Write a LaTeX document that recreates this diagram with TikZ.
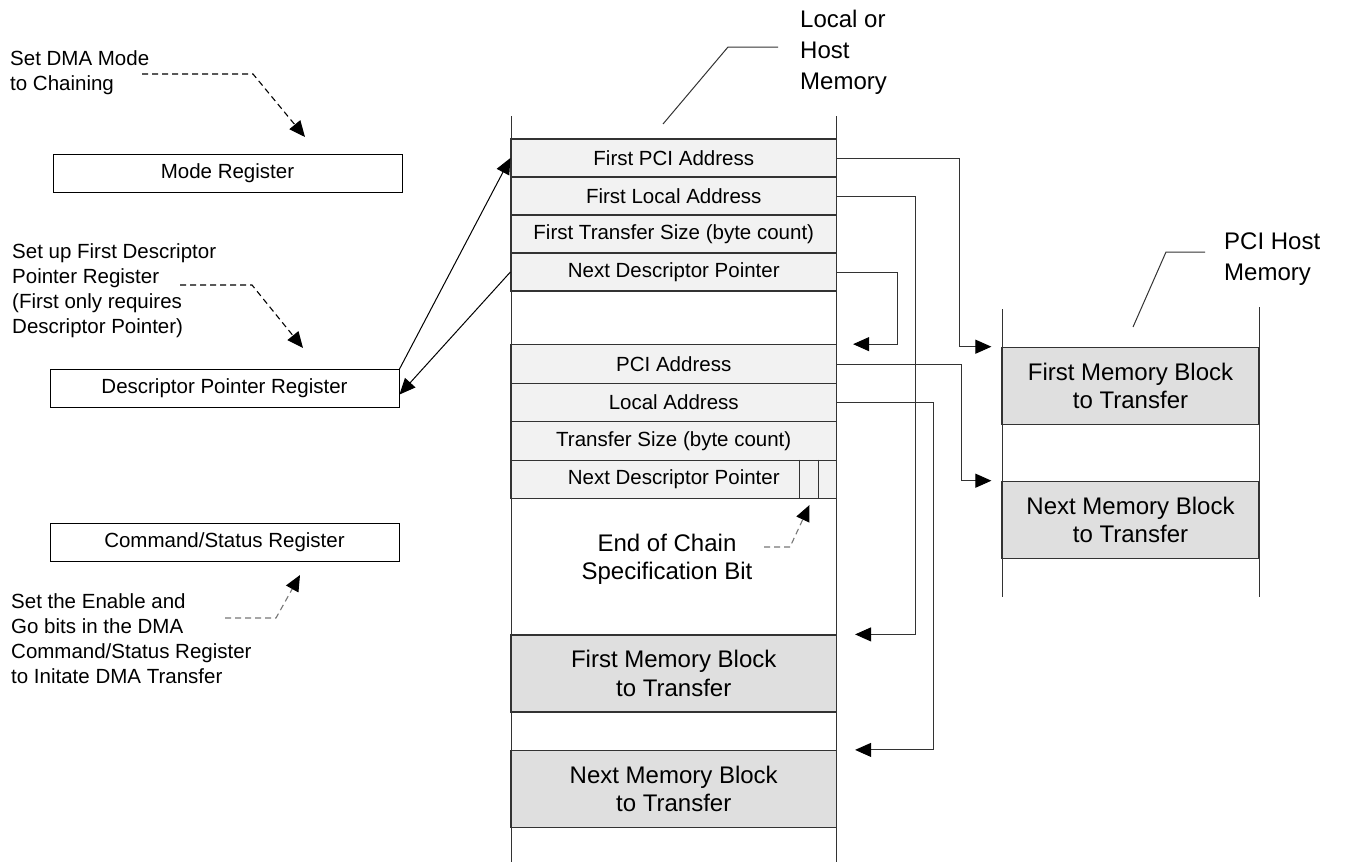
\documentclass[tikz,border=0pt]{standalone}
\usepackage{fontspec}
\setmainfont{Liberation Sans}
\usepackage{tikz}
\usetikzlibrary{arrows.meta}

\definecolor{rowgray}{HTML}{F2F2F2}
\definecolor{blockgray}{HTML}{DFDFDF}
\definecolor{linegray}{HTML}{333333}
\definecolor{dashgray}{HTML}{777777}
\newcommand{\smallfont}{\fontsize{20.5}{25}\selectfont}
\newcommand{\bigfont}{\fontsize{24}{28.3}\selectfont}
\newcommand{\labelfont}{\fontsize{24}{31}\selectfont}

\begin{document}
\begin{tikzpicture}[x=1pt,y=-1pt]
	\useasboundingbox (0,0) rectangle (1365,865);

	% memory columns
	\draw[linegray,line width=1pt] (511,116) -- (511,862) (836.5,116) -- (836.5,862);
	\draw[linegray,line width=1pt] (1002,309) -- (1002,597) (1259,307) -- (1259,597);

	\begin{scope}[every node/.style={draw,line width=1pt,minimum width=349pt,minimum height=38pt,font=\smallfont}]
		\node (mode) at (227.5,173) {Mode Register};
		\node (dpr) at (224.5,388.5) {Descriptor Pointer Register};
		\node (csr) at (224.5,542) {Command/Status Register};
	\end{scope}

	\begin{scope}[every node/.style={draw=linegray,line width=1.2pt,fill=rowgray,minimum width=325.5pt,minimum height=38pt,inner sep=0pt,font=\smallfont}]
		\node (pci1) at (673.75,158) {First PCI Address};
		\node (loc1) at (673.75,196) {First Local Address};
		\node (size1) at (673.75,234) {First Transfer Size (byte count)};
		\node (ndp1) at (673.75,272) {Next Descriptor Pointer};
		\node[minimum height=38.5pt] (pci2) at (673.75,364) {PCI Address};
		\node[minimum height=38.5pt] (loc2) at (673.75,402.5) {Local Address};
		\node[minimum height=38.5pt] (size2) at (673.75,441) {Transfer Size (byte count)};
		\node[minimum height=38.5pt] (ndp2) at (673.75,479.5) {Next Descriptor Pointer};
	\end{scope}
	\draw[linegray,line width=1pt] ([xshift=-38pt]ndp2.north east) -- ([xshift=-38pt]ndp2.south east)
		([xshift=-19pt]ndp2.north east) -- ([xshift=-19pt]ndp2.south east);

	\begin{scope}[every node/.style={draw=linegray,line width=1.2pt,fill=blockgray,align=center,minimum height=77pt,font=\bigfont}]
		\node[minimum width=325.5pt] (lmb1) at (673.75,673.5) {First Memory Block\\to Transfer};
		\node[minimum width=325.5pt] (lmb2) at (673.75,789) {Next Memory Block\\to Transfer};
		\node[minimum width=257pt] (hmb1) at (1130.5,385.8) {First Memory Block\\to Transfer};
		\node[minimum width=257pt] (hmb2) at (1130.5,519.8) {Next Memory Block\\to Transfer};
	\end{scope}

	\begin{scope}[every node/.style={align=left,anchor=north west,inner sep=0pt,font=\smallfont}]
		\node (setmode) at (10,50) {Set DMA Mode\\to Chaining};
		\node (setdpr) at (12,243) {Set up First Descriptor\\Pointer Register\\(First only requires\\Descriptor Pointer)};
		\node (setgo) at (11,593) {Set the Enable and\\Go bits in the DMA\\Command/Status Register\\to Initate DMA Transfer};
	\end{scope}
	\begin{scope}[every node/.style={align=left,anchor=north west,inner sep=0pt,font=\labelfont}]
		\node (localmem) at (800,10) {Local or\\Host\\Memory};
		\node (hostmem) at (1224,232.5) {PCI Host\\Memory};
	\end{scope}
	\node[align=center,anchor=north,inner sep=0pt,font=\bigfont] (eoc) at (667,533.5) {End of Chain\\Specification Bit};

	% leaders
	\draw[linegray,line width=1pt] (778,47) -- (728,47) -- (663,124);
	\draw[linegray,line width=1pt] (1205,252) -- (1166,252) -- (1133,327);

	\begin{scope}[>={Triangle[length=16pt,width=14pt,black]},line width=1pt,color=linegray]
		\draw[->] (pci1.east) -| ([xshift=-42pt]hmb1.north west) -- ([xshift=-10pt]hmb1.north west);
		\draw[->] (pci2.east) -| ([xshift=-40pt]hmb2.north west) -- ([xshift=-10pt]hmb2.north west);
		\draw[->] (loc1.east) -| ([xshift=78pt]lmb1.north east) -- ([xshift=18pt]lmb1.north east);
		\draw[->] (loc2.east) -| ([xshift=96pt]lmb2.north east) -- ([xshift=18pt]lmb2.north east);
		\draw[->] (ndp1.east) -| ([xshift=60pt]pci2.north east) -- ([xshift=16pt]pci2.north east);
		\draw[->,black] (dpr.north east) -- (pci1.west);
		\draw[->,black] (ndp1.west) -- ([yshift=-6pt]dpr.east);
	\end{scope}

	\begin{scope}[>={Triangle[length=16pt,width=14pt,black]},dash pattern=on 6pt off 4pt,line width=1.1pt]
		\coordinate (modefrom) at (142,74);
		\coordinate (modeto) at (305,137);
		\coordinate (dprfrom) at (180,285);
		\coordinate (dprto) at (303,348);
		\coordinate (csrfrom) at (225,618);
		\coordinate (csrto) at (300,575);
		\coordinate (eocfrom) at (764,547);
		\coordinate (eocto) at (809.5,505);
		\draw[->] (modefrom) -- (253,74) -- (modeto);
		\draw[->] (dprfrom) -- (252,285) -- (dprto);
		\draw[->,dashgray] (csrfrom) -- (276,618) -- (csrto);
		\draw[->,dashgray] (eocfrom) -- (790,547) -- (eocto);
	\end{scope}
\end{tikzpicture}
\end{document}
